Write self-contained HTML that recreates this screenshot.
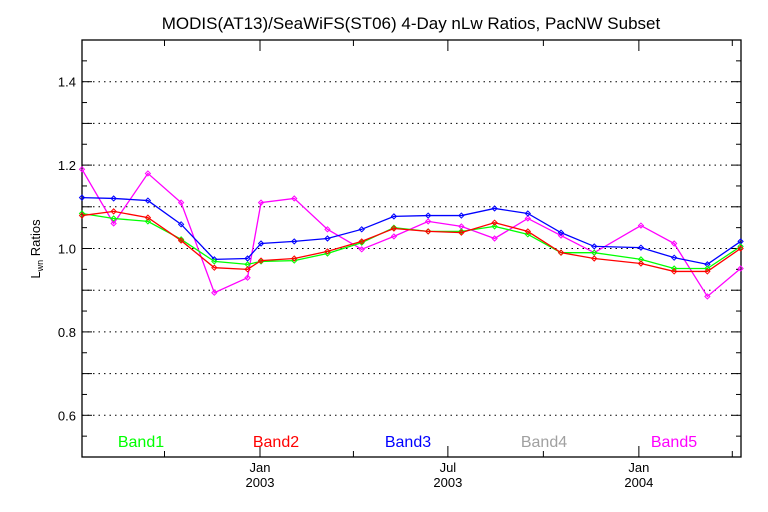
<!DOCTYPE html>
<html><head><meta charset="utf-8"><style>
body{margin:0;background:#fff}
svg{display:block;font-family:"Liberation Sans",sans-serif}
</style></head><body>
<svg id="chart" width="768" height="512" viewBox="0 0 768 512">
<text x="411" y="29" text-anchor="middle" font-size="17">MODIS(AT13)/SeaWiFS(ST06) 4-Day nLw Ratios, PacNW Subset</text>
<text transform="translate(40,249) rotate(-90)" text-anchor="middle" font-size="13">L<tspan font-size="9" dy="3">wn</tspan><tspan dy="-3"> Ratios</tspan></text>
<g id="grid"></g><g id="axes"></g><g id="series"></g><g id="legend"></g>
</svg>
<script>
const days=[-172,-141,-108,-76,-44,-12,1,33,65,98,129,162,194,226,258,290,322,367,399,431,463];
const band1=[1.084,1.072,1.065,1.022,0.969,0.962,0.969,0.971,0.988,1.014,1.05,1.041,1.041,1.053,1.034,0.99,0.99,0.974,0.952,0.952,1.005];
const band2=[1.079,1.089,1.074,1.019,0.954,0.950,0.971,0.976,0.993,1.017,1.048,1.041,1.038,1.062,1.041,0.99,0.976,0.964,0.945,0.945,1.0];
const band3=[1.122,1.12,1.115,1.058,0.974,0.976,1.012,1.017,1.024,1.046,1.077,1.079,1.079,1.096,1.084,1.038,1.005,1.002,0.978,0.962,1.017];
const band5=[1.19,1.06,1.18,1.11,0.894,0.93,1.11,1.12,1.046,0.998,1.029,1.065,1.053,1.024,1.072,1.031,0.99,1.055,1.012,0.885,0.952];
const yTicks=[0.6,0.8,1.0,1.2,1.4];
const yTickLabels=["0.6","0.8","1.0","1.2","1.4"];
const xMajor=[0,181,365];
const xMajorLabels=[["Jan","2003"],["Jul","2003"],["Jan","2004"]];
const xMinor=[-92,90,273,455];
const legendNames=["Band1","Band2","Band3","Band4","Band5"];
const legendColors=["#00ff00","#ff0000","#0000ff","#a0a0a0","#ff00ff"];

const L=82,R=741,T=40,B=457;
const X=d=>260+d*1.038;
const Y=v=>B-(v-0.5)/1.0*(B-T);
const NS="http://www.w3.org/2000/svg";
function mk(tag,attrs,parent){const e=document.createElementNS(NS,tag);for(const k in attrs)e.setAttribute(k,attrs[k]);parent.appendChild(e);return e;}
const grid=document.getElementById('grid'),axes=document.getElementById('axes'),ser=document.getElementById('series'),leg=document.getElementById('legend');
for(let i=6;i<=14;i++){const v=i/10;
 const g=mk('line',{x1:L,x2:R,y1:Y(v),y2:Y(v),stroke:'#000','stroke-width':1,'stroke-dasharray':'1.5,4'},grid);
 
 
}
for(let i=10;i<=30;i++){const v=i/20;const len=(i%2===0)?10:5;
 mk('line',{x1:L,x2:L+len,y1:Y(v),y2:Y(v),stroke:'#000'},axes);
 mk('line',{x1:R-len,x2:R,y1:Y(v),y2:Y(v),stroke:'#000'},axes);
}
const frame=mk('rect',{x:L,y:T,width:R-L,height:B-T,fill:'none',stroke:'#000','stroke-width':1.3},axes);


yTicks.forEach((v,i)=>{const t=mk('text',{x:L-6,y:Y(v)+5,'text-anchor':'end','font-size':13},axes);t.textContent=yTickLabels[i];
 
 });
xMajor.forEach((d,i)=>{const x=X(d);
 mk('line',{x1:x,x2:x,y1:B,y2:B-11,stroke:'#000'},axes);
 mk('line',{x1:x,x2:x,y1:T,y2:T+11,stroke:'#000'},axes);
 const t1=mk('text',{x:x,y:B+15,'text-anchor':'middle','font-size':13},axes);t1.textContent=xMajorLabels[i][0];
 
 
 const t2=mk('text',{x:x,y:B+30,'text-anchor':'middle','font-size':13},axes);t2.textContent=xMajorLabels[i][1];
 
 
});
xMinor.forEach(d=>{const x=X(d);if(x<L||x>R)return;
 mk('line',{x1:x,x2:x,y1:B,y2:B-6,stroke:'#000'},axes);
 mk('line',{x1:x,x2:x,y1:T,y2:T+6,stroke:'#000'},axes);});
function draw(vals,color,name){
 const pts=days.map((d,i)=>[Math.max(L,Math.min(R,X(d))),Y(vals[i])]);
 const p=mk('polyline',{points:pts.map(p=>p.join(',')).join(' '),fill:'none',stroke:color,'stroke-width':1.3},ser);
 
 
 pts.forEach(q=>{const m=mk('path',{d:`M${q[0]-2.5},${q[1]} L${q[0]},${q[1]-2.5} L${q[0]+2.5},${q[1]} L${q[0]},${q[1]+2.5} Z`,fill:'none',stroke:color,'stroke-width':1},ser);
  
  });
}
draw(band5,'#ff00ff','band5');
draw(band3,'#0000ff','band3');
draw(band1,'#00ff00','band1');
draw(band2,'#ff0000','band2');
const lx=[141,276,408,544,674];
legendNames.forEach((n,i)=>{const t=mk('text',{x:lx[i],y:447,'text-anchor':'middle','font-size':16,fill:legendColors[i]},leg);t.textContent=n;
 
 });
</script>
</body></html>
